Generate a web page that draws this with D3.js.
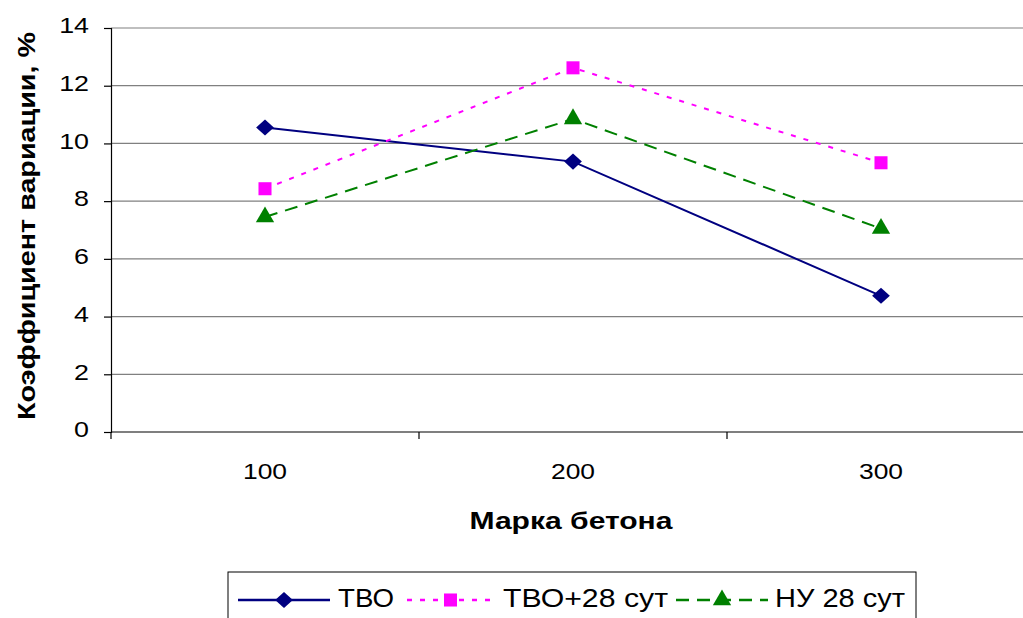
<!DOCTYPE html>
<html>
<head>
<meta charset="utf-8">
<script src="https://cdn.jsdelivr.net/npm/d3@7"></script>
<style>
  html, body { margin: 0; padding: 0; background: #fff; }
  text { font-family: "Liberation Sans", Arial, sans-serif; fill: #000; }
</style>
</head>
<body>
<svg id="chart" width="1023" height="618"></svg>
<script>
// Concrete grade categories and coefficient-of-variation series (%)
const grades = ["100", "200", "300"];
const tvo = [10.55, 9.37, 4.72];
const tvo28 = [8.43, 12.62, 9.33];
const nu28 = [7.45, 10.85, 7.05];
const yTicks = [0, 2, 4, 6, 8, 10, 12, 14];
const seriesNames = ["ТВО", "ТВО+28 сут", "НУ 28 сут"];

const diamond = {
  draw(ctx, size) {
    const r = Math.sqrt(size / 2);
    ctx.moveTo(0, -r); ctx.lineTo(r * 1.1, 0); ctx.lineTo(0, r); ctx.lineTo(-r * 1.1, 0); ctx.closePath();
  }
};

const series = [
  { name: seriesNames[0], values: tvo, color: "#000080", dash: null, symbol: diamond, size: 130 },
  { name: seriesNames[1], values: tvo28, color: "#ff00ff", dash: "5,8", symbol: d3.symbolSquare, size: 170 },
  { name: seriesNames[2], values: nu28, color: "#008000", dash: "13,8", symbol: d3.symbolTriangle, size: 145 }
];

const svg = d3.select("#chart");
const plotLeft = 111, plotRight = 1035, plotTop = 28, plotBottom = 432;

const x = d3.scaleBand().domain(grades).range([plotLeft, plotRight]).padding(0);
const y = d3.scaleLinear().domain([0, 14]).range([plotBottom, plotTop]);

// Widen glyphs horizontally by a factor
function widen(sel, k) {
  sel.each(function () {
    const w = this.getComputedTextLength();
    d3.select(this).attr("textLength", w * k).attr("lengthAdjust", "spacingAndGlyphs");
  });
}

// Horizontal gridlines
svg.append("g").selectAll("line").data(yTicks.filter(t => t > 0)).join("line")
  .attr("x1", plotLeft).attr("x2", 1023)
  .attr("y1", d => y(d)).attr("y2", d => y(d))
  .attr("stroke", "#808080").attr("stroke-width", 1.2);

// Y axis
const yAxis = svg.append("g").attr("transform", `translate(${plotLeft},0)`)
  .call(d3.axisLeft(y).tickValues(yTicks).tickSize(7).tickPadding(15));
yAxis.select(".domain").attr("stroke", "#000").attr("stroke-width", 1.2);
yAxis.selectAll(".tick line").attr("stroke", "#000").attr("stroke-width", 1.2);
yAxis.selectAll("text").attr("font-size", 22).attr("fill", "#000").attr("dy", "0.22em")
  .style("font-family", "'Liberation Sans', Arial, sans-serif").call(widen, 1.22);

// X axis with boundary ticks between categories
const xAxisG = svg.append("g").attr("transform", `translate(0,${plotBottom})`);
xAxisG.append("line").attr("x1", plotLeft).attr("x2", 1023).attr("y1", 0).attr("y2", 0)
  .attr("stroke", "#000").attr("stroke-width", 1.2);
xAxisG.selectAll("line.tk").data(grades).join("line").attr("class", "tk")
  .attr("x1", d => x(d)).attr("x2", d => x(d)).attr("y1", 0).attr("y2", 7)
  .attr("stroke", "#000").attr("stroke-width", 1.2);
xAxisG.selectAll("text").data(grades).join("text")
  .attr("x", d => x(d) + x.bandwidth() / 2).attr("y", 47)
  .attr("text-anchor", "middle").attr("font-size", 22).text(d => d).call(widen, 1.2);

const cx = d => x(d) + x.bandwidth() / 2;

// Series lines and markers
series.forEach(s => {
  const pts = grades.map((g, i) => [cx(g), y(s.values[i])]);
  svg.append("path").attr("d", d3.line()(pts))
    .attr("fill", "none").attr("stroke", s.color).attr("stroke-width", 2)
    .attr("stroke-dasharray", s.dash);
  svg.append("g").selectAll("path").data(pts).join("path")
    .attr("d", d3.symbol().type(s.symbol).size(s.size))
    .attr("transform", d => `translate(${d[0]},${d[1]})`)
    .attr("fill", s.color);
});

// Axis titles
svg.append("text").attr("x", 571).attr("y", 529).attr("text-anchor", "middle")
  .attr("font-size", 23).attr("font-weight", "bold")
  .attr("textLength", 203).attr("lengthAdjust", "spacingAndGlyphs")
  .text("Марка бетона");
svg.append("text").attr("transform", "translate(35,226) rotate(-90)")
  .attr("text-anchor", "middle").attr("font-size", 24).attr("font-weight", "bold")
  .attr("textLength", 388).attr("lengthAdjust", "spacingAndGlyphs")
  .text("Коэффициент вариации, %");

// Legend
const lg = svg.append("g");
lg.append("rect").attr("x", 228).attr("y", 572).attr("width", 688).attr("height", 60)
  .attr("fill", "#fff").attr("stroke", "#000").attr("stroke-width", 1);
const legendPos = [
  { x0: 238, x1: 330, tx: 338, tw: 56 },
  { x0: 407, x1: 494, tx: 503, tw: 165 },
  { x0: 676, x1: 768, tx: 775, tw: 130 }
];
series.forEach((s, i) => {
  const p = legendPos[i];
  const ly = 600;
  lg.append("line").attr("x1", p.x0).attr("x2", p.x1).attr("y1", ly).attr("y2", ly)
    .attr("stroke", s.color).attr("stroke-width", 2.5).attr("stroke-dasharray", s.dash);
  lg.append("path").attr("d", d3.symbol().type(s.symbol).size(s.size)())
    .attr("transform", `translate(${(p.x0 + p.x1) / 2},${ly})`).attr("fill", s.color);
  lg.append("text").attr("x", p.tx).attr("y", 607).attr("font-size", 26)
    .attr("textLength", p.tw).attr("lengthAdjust", "spacingAndGlyphs").text(s.name);
});
</script>
</body>
</html>
